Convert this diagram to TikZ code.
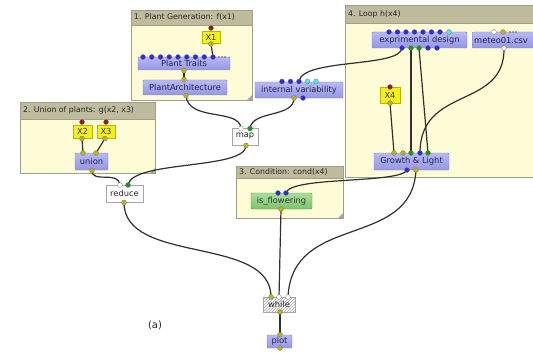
\documentclass[tikz,border=0pt]{standalone}
\usepackage{fontspec}
\setmainfont{DejaVu Sans}
\usetikzlibrary{patterns}
\definecolor{groupfill}{HTML}{FEFCD6}
\definecolor{headfill}{HTML}{BFBC9E}
\definecolor{groupline}{HTML}{A09E8C}
\definecolor{blktop}{HTML}{B6B8F6}
\definecolor{blkbot}{HTML}{9597E4}
\definecolor{blkline}{HTML}{8284C8}
\definecolor{blktext}{HTML}{22224A}
\definecolor{xfill}{HTML}{F4F01E}
\definecolor{xline}{HTML}{B8B400}
\definecolor{gtop}{HTML}{A8DE9C}
\definecolor{gbot}{HTML}{7CC46C}
\definecolor{gline}{HTML}{5A9A50}
\definecolor{dblue}{HTML}{2A2AE0}
\definecolor{dolive}{HTML}{B8B41C}
\definecolor{dgreen}{HTML}{149A14}
\definecolor{dred}{HTML}{A01414}
\definecolor{dcyan}{HTML}{50E6E6}
\definecolor{wirecol}{HTML}{303030}
\pgfdeclarelayer{bg}
\pgfdeclarelayer{wirelayer}
\pgfsetlayers{bg,wirelayer,main}
\tikzset{
  grp/.style={draw=groupline, fill=groupfill, line width=0.6pt},
  grphead/.style={draw=groupline, fill=headfill, line width=0.6pt},
  grptitle/.style={anchor=west, inner sep=0pt, font=\fontsize{7.8}{9}\selectfont, text=black!85},
  blk/.style={draw=blkline, top color=blktop, bottom color=blkbot, rounded corners=1pt, inner sep=0pt, line width=0.4pt, font=\fontsize{8.3}{9}\selectfont, text=blktext},
  xblk/.style={draw=xline, fill=xfill, inner sep=0pt, line width=0.4pt, font=\fontsize{8.3}{9}\selectfont, text=black!80},
  gblk/.style={draw=gline, top color=gtop, bottom color=gbot, rounded corners=1pt, inner sep=0pt, line width=0.4pt, font=\fontsize{8.3}{9}\selectfont, text=black!80},
  wblk/.style={draw=black!35, fill=white, inner sep=0pt, line width=0.5pt, font=\fontsize{8.3}{9}\selectfont, text=black!85},
  dot/.style={circle, inner sep=0pt, minimum size=5pt, draw=black!55, line width=0.25pt},
  bd/.style={dot, fill=dblue},
  od/.style={dot, fill=dolive},
  gd/.style={dot, fill=dgreen},
  rd/.style={dot, fill=dred},
  cd/.style={dot, fill=dcyan},
  wd/.style={dot, fill=white},
  tiny/.style={circle, inner sep=0pt, minimum size=1.8pt, fill=black!60},
  wire/.style={draw=wirecol, line width=1.2pt},
  grip/.style={fill=black!35, draw=none}
}
\begin{document}
\begin{tikzpicture}[x=1pt,y=-1pt]
\useasboundingbox (0,0) rectangle (533,353);
\clip (0,0) rectangle (533,353);

% ---------- groups ----------
\begin{pgfonlayer}{bg}
\fill[white] (0,0) rectangle (533,353);
\draw[grp] (131,10) rectangle (252,100);
\draw[grphead] (131,10) rectangle (252,25);
\fill[grip] (252,95) -- (252,100) -- (247,100) -- cycle;
\draw[grp] (20,102) rectangle (155,173);
\draw[grphead] (20,102) rectangle (155,119);
\fill[grip] (155,168) -- (155,173) -- (150,173) -- cycle;
\draw[grp] (236,166) rectangle (343,218);
\draw[grphead] (236,166) rectangle (343,178);
\fill[grip] (343,213) -- (343,218) -- (338,218) -- cycle;
\draw[grp] (345,5) rectangle (560,177);
\draw[grphead] (345,5) rectangle (560,23);
\end{pgfonlayer}
\node[grptitle] (t1) at (134,17.5) {1. Plant Generation: f(x1)};
\node[grptitle] (t2) at (23,110.5) {2. Union of plants: g(x2, x3)};
\node[grptitle] (t3) at (239,172) {3. Condition: cond(x4)};
\node[grptitle] (t4) at (348,14) {4. Loop h(x4)};

% ---------- blocks ----------
\node[xblk, minimum width=18pt, minimum height=12pt] (x1) at (211,37.5) {X1};
\node[blk, minimum width=92pt, minimum height=13pt] (pt) at (184,63.5) {Plant Traits};
\node[blk, minimum width=84pt, minimum height=15pt] (pa) at (185,87.5) {PlantArchitecture};
\node[xblk, minimum width=19pt, minimum height=13pt] (x2) at (82.5,131.5) {X2};
\node[xblk, minimum width=18pt, minimum height=13pt] (x3) at (106,131.5) {X3};
\node[blk, minimum width=33pt, minimum height=17pt] (un) at (91.5,161.5) {union};
\node[wblk, minimum width=37pt, minimum height=17pt] (red) at (124.5,193.5) {reduce};
\node[wblk, minimum width=26pt, minimum height=17pt] (map) at (245,136.5) {map};
\node[blk, minimum width=88pt, minimum height=16pt] (iv) at (299,90) {internal variability};
\node[blk, minimum width=95pt, minimum height=16pt] (ed) at (419.5,40) {exprimental design};
\node[blk, anchor=west, minimum height=16pt, text width=71pt, align=left, inner xsep=2pt] (me) at (472,40) {meteo01.csv};
\node[xblk, minimum width=20pt, minimum height=16pt] (x4) at (390,95) {X4};
\node[blk, minimum width=75pt, minimum height=17pt] (gl) at (411.5,161.5) {Growth \& Light};
\node[gblk, minimum width=61pt, minimum height=16pt] (fl) at (281.5,201) {is\_flowering};
\node[draw=black!35, fill=white, postaction={pattern=north east lines, pattern color=black!35}, inner sep=0pt, minimum width=32pt, minimum height=15pt, font=\fontsize{8.3}{9}\selectfont, text=black!85] (wh) at (279,304.5) {while};
\node[blk, minimum width=25pt, minimum height=13pt] (pl) at (279.5,341.5) {plot};
\node[font=\fontsize{10}{12}\selectfont, text=black!85] (lab) at (155,325) {(a)};

% ---------- ports ----------
\node[rd] (x1i) at (211,28) {};
\node[od] (x1o) at (211,44) {};
\foreach \i/\xx in {1/143,2/151.75,3/160.5,4/169.25,5/178,6/186.75,7/195.5,8/204.25,9/213}
  \node[bd] (pti\i) at (\xx,57) {};
\foreach \xx [count=\k] in {219,222,225} \node[tiny] (ptm\k) at (\xx,57) {};
\node[od] (pto) at (184,70.5) {};
\node[od] (pai) at (184,79.5) {};
\node[od] (pao) at (186,95.5) {};
\node[rd] (x2i) at (82,122) {};
\node[od] (x2o) at (82,138.5) {};
\node[rd] (x3i) at (106,122) {};
\node[od] (x3o) at (105,138.5) {};
\node[od] (uni1) at (83,153) {};
\node[od] (uni2) at (96,153) {};
\node[od] (uno) at (92,170.5) {};
\node[wd] (redi1) at (120,185) {};
\node[gd] (redi2) at (128,185) {};
\node[od] (redo) at (124,202.5) {};
\node[wd] (mapi1) at (241,128.5) {};
\node[gd] (mapi2) at (250,128.5) {};
\node[od] (mapo) at (246,145.5) {};
\node[bd] (ivi1) at (282,81.5) {};
\node[bd] (ivi2) at (290.5,81.5) {};
\node[bd] (ivi3) at (299,81.5) {};
\node[cd] (ivi4) at (307.5,81.5) {};
\node[cd] (ivi5) at (316,81.5) {};
\node[od] (ivo1) at (294,98) {};
\node[bd] (ivo2) at (303,98) {};
\foreach \i/\xx in {1/389,2/397.5,3/406,4/414.5,5/423,6/431.5,7/440}
  \node[bd] (edi\i) at (\xx,32) {};
\node[cd] (edi8) at (449,32) {};
\node[bd] (edo1) at (402,48) {};
\node[gd] (edo2) at (411,48) {};
\node[gd] (edo3) at (419,48) {};
\node[bd] (edo4) at (428,48) {};
\node[bd] (edo5) at (437,48) {};
\node[wd] (mei1) at (494,32) {};
\node[od] (mei2) at (503,32) {};
\foreach \xx [count=\k] in {510,513,516} \node[tiny] (mem\k) at (\xx,32) {};
\node[wd] (meo) at (504,48) {};
\node[rd] (x4i) at (390,87) {};
\node[od] (x4o) at (390,103) {};
\node[od] (gli1) at (394,153) {};
\node[od] (gli2) at (403,153) {};
\node[gd] (gli3) at (411,153) {};
\node[bd] (gli4) at (420,153) {};
\node[gd] (gli5) at (428,153) {};
\node[bd] (glo1) at (407,170) {};
\node[od] (glo2) at (416,170) {};
\node[bd] (fli1) at (278,193) {};
\node[bd] (fli2) at (286,193) {};
\node[od] (flo) at (281,209) {};
\node[od] (whi1) at (271,297) {};
\node[wd] (whi2) at (279,297) {};
\node[wd] (whi3) at (288,297) {};
\node[od] (who) at (280,312) {};
\node[od] (pli) at (280,334.5) {};
\node[od] (plo) at (280,348) {};

% ---------- wires ----------
\begin{pgfonlayer}{wirelayer}
\draw[wire] (x1o.center) -- (pti9.center);
\draw[wire] (pto.center) -- (pai.center);
\draw[wire] (pao.center) .. controls (188,122) and (240,108) .. (mapi1.center);
\draw[wire] (ivo1.center) .. controls (294,118) and (252,110) .. (mapi2.center);
\draw[wire] (edo1.center) .. controls (400,68) and (302,58) .. (ivi3.center);
\draw[wire] (x2o.center) -- (uni1.center);
\draw[wire] (x3o.center) -- (uni2.center);
\draw[wire] (uno.center) .. controls (92,184) and (118,170) .. (redi1.center);
\draw[wire] (mapo.center) .. controls (246,170) and (132,160) .. (redi2.center);
\draw[wire] (redo.center) .. controls (124,265) and (271,235) .. (whi1.center);
\draw[wire] (flo.center) -- (whi2.center);
\draw[wire] (glo2.center) .. controls (412,250) and (292,212) .. (whi3.center);
\draw[wire] (glo1.center) .. controls (400,184) and (290,176) .. (fli2.center);
\draw[wire] (who.center) -- (pli.center);
\draw[wire] (edo2.center) -- (gli3.center);
\draw[wire] (edo3.center) -- (gli5.center);
\draw[wire] (meo.center) .. controls (505,110) and (420,85) .. (gli4.center);
\draw[wire] (x4o.center) -- (gli1.center);
\end{pgfonlayer}
\end{tikzpicture}
\end{document}
